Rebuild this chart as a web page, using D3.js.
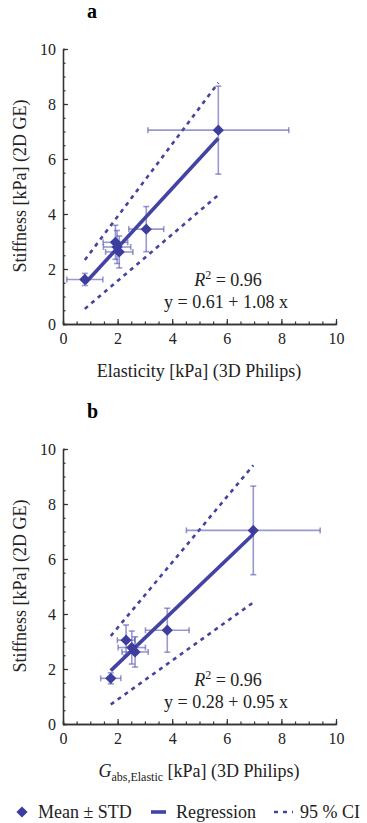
<!DOCTYPE html>
<html>
<head>
<meta charset="utf-8">
<script src="https://cdn.jsdelivr.net/npm/d3@7"></script>
<style>
  body { margin: 0; background: #fff; }
  svg { display: block; font-family: "Liberation Serif", "DejaVu Serif", serif; }
</style>
</head>
<body>
<div id="chart"></div>
<script>
// panel a : 2D GE stiffness vs 3D Philips elasticity
const aX = [0.8, 1.92, 1.98, 2.06, 3.05, 5.69];
const aY = [1.62, 2.97, 2.8, 2.62, 3.45, 7.05];
const aXErr = [0.66, 0.45, 0.5, 0.5, 0.64, 2.58];
const aYErr = [0.22, 0.62, 0.6, 0.58, 0.82, 1.6];
const aFit = [0.61, 1.08];
const aCiUpper = [[0.8, 2.33], [5.69, 8.77]];
const aCiLower = [[0.8, 0.55], [5.69, 4.69]];
const aText = ["0.96", "y = 0.61 + 1.08 x"];

// panel b : 2D GE stiffness vs Gabs,Elastic
const bX = [1.75, 2.31, 2.52, 2.64, 3.82, 6.97];
const bY = [1.66, 3.05, 2.78, 2.62, 3.41, 7.04];
const bXErr = [0.37, 0.32, 0.5, 0.48, 0.8, 2.45];
const bYErr = [0.2, 0.55, 0.6, 0.55, 0.8, 1.61];
const bFit = [0.28, 0.95];
const bCiUpper = [[1.75, 3.2], [6.97, 9.41]];
const bCiLower = [[1.75, 0.71], [6.97, 4.42]];
const bText = ["0.96", "y = 0.28 + 0.95 x"];

const majorTicks = [0, 2, 4, 6, 8, 10];
const minorTicks = d3.range(0, 10.01, 0.5);

const W = 367, H = 823;
const lineColor = "#4343a3";
const barColor = "rgba(85,85,175,0.6)";

const svg = d3.select("#chart").append("svg")
    .attr("width", W)
    .attr("height", H)

function drawPanel(top, letter, xs, ys, xe, ye, fit, ciUp, ciLo, txt, isB) {
    let x = d3.scaleLinear().domain([0, 10]).range([63, 336]);
    let y = d3.scaleLinear().domain([0, 10]).range([top + 275, top]);
    let g = svg.append("g")

    //panel letter
    g.append("text")
        .attr("x", 87).attr("y", top - 31)
        .attr("font-size", 20).attr("font-weight", "bold")
        .text(letter)

    //minor ticks first, then major ticks with labels
    g.append("g").attr("transform", "translate(0," + y(0) + ")")
        .call(d3.axisBottom(x).tickValues(minorTicks).tickSize(-2.5).tickFormat(""))
    g.append("g").attr("transform", "translate(63,0)")
        .call(d3.axisLeft(y).tickValues(minorTicks).tickSize(-2.5).tickFormat(""))
    g.append("g").attr("class", "xAxis").attr("transform", "translate(0," + y(0) + ")")
        .call(d3.axisBottom(x).tickValues(majorTicks).tickSizeInner(-5).tickSizeOuter(0).tickPadding(9))
    g.append("g").attr("class", "yAxis").attr("transform", "translate(63,0)")
        .call(d3.axisLeft(y).tickValues(majorTicks).tickSizeInner(-5).tickSizeOuter(0).tickPadding(7))
    g.selectAll(".domain").attr("stroke", "#333").attr("stroke-width", 1.3)
    g.selectAll(".tick line").attr("stroke", "#333").attr("stroke-width", 1.2)
    g.selectAll(".tick text").attr("font-size", 16).attr("fill", "#222")
        .attr("font-family", "Liberation Serif")

    //axis titles
    let xl = g.append("text")
        .attr("x", 199).attr("y", top + 328)
        .attr("text-anchor", "middle").attr("font-size", 18).attr("fill", "#222")
    if (isB) {
        xl.append("tspan").attr("font-style", "italic").text("G")
        xl.append("tspan").attr("font-size", 12).attr("dy", 4).text("abs,Elastic")
        xl.append("tspan").attr("dy", -4).text(" [kPa] (3D Philips)")
    } else {
        xl.text("Elasticity [kPa] (3D Philips)")
    }
    g.append("text")
        .attr("transform", "translate(26," + (top + 137) + ") rotate(-90)")
        .attr("text-anchor", "middle").attr("font-size", 18).attr("fill", "#222")
        .text("Stiffness [kPa] (2D GE)")

    //confidence band
    let line = d3.line().x(d => x(d[0])).y(d => y(d[1]))
    ;[ciUp, ciLo].forEach(function (c) {
        g.append("path").datum(c)
            .attr("d", line)
            .attr("fill", "none").attr("stroke", lineColor)
            .attr("stroke-width", 2.6).attr("stroke-dasharray", "4,4.5")
    })

    //error bars
    let pts = xs.map((v, i) => ({ x: v, y: ys[i], ex: xe[i], ey: ye[i] }))
    let cap = 3
    pts.forEach(function (p) {
        let b = g.append("g").attr("stroke", barColor).attr("stroke-width", 1.6)
        b.append("line").attr("x1", x(p.x - p.ex)).attr("x2", x(p.x + p.ex))
            .attr("y1", y(p.y)).attr("y2", y(p.y))
        b.append("line").attr("x1", x(p.x)).attr("x2", x(p.x))
            .attr("y1", y(p.y - p.ey)).attr("y2", y(p.y + p.ey))
        ;[p.x - p.ex, p.x + p.ex].forEach(v => b.append("line")
            .attr("x1", x(v)).attr("x2", x(v)).attr("y1", y(p.y) - cap).attr("y2", y(p.y) + cap))
        ;[p.y - p.ey, p.y + p.ey].forEach(v => b.append("line")
            .attr("x1", x(p.x) - cap).attr("x2", x(p.x) + cap).attr("y1", y(v)).attr("y2", y(v)))
    })

    //regression line over the data range
    let xMin = d3.min(xs), xMax = d3.max(xs)
    g.append("path").datum([[xMin, fit[0] + fit[1] * xMin], [xMax, fit[0] + fit[1] * xMax]])
        .attr("d", line)
        .attr("fill", "none").attr("stroke", lineColor).attr("stroke-width", 3.6)

    //means
    g.selectAll("path.pt").data(pts).enter().append("path")
        .attr("class", "pt")
        .attr("d", d3.symbol(d3.symbolDiamond2, 80))
        .attr("transform", d => "translate(" + x(d.x) + "," + y(d.y) + ")")
        .attr("fill", "#3d3d9e")

    //fit annotation
    let r = g.append("text")
        .attr("x", 228).attr("y", top + 237)
        .attr("text-anchor", "middle").attr("font-size", 18).attr("fill", "#222")
    r.append("tspan").attr("font-style", "italic").text("R")
    r.append("tspan").attr("font-size", 12).attr("dy", -7).text("2")
    r.append("tspan").attr("dy", 7).text(" = " + txt[0])
    g.append("text")
        .attr("x", 226).attr("y", top + 259)
        .attr("text-anchor", "middle").attr("font-size", 18).attr("fill", "#222")
        .text(txt[1])
}

drawPanel(49, "a", aX, aY, aXErr, aYErr, aFit, aCiUpper, aCiLower, aText, false)
drawPanel(449, "b", bX, bY, bXErr, bYErr, bFit, bCiUpper, bCiLower, bText, true)

//legend
let lg = svg.append("g").attr("font-size", 18).attr("fill", "#222")
lg.append("path")
    .attr("d", d3.symbol(d3.symbolDiamond2, 80))
    .attr("transform", "translate(22,812)")
    .attr("fill", "#3d3d9e")
lg.append("text").attr("x", 38).attr("y", 818).text("Mean \u00b1 STD")
lg.append("line").attr("x1", 151).attr("x2", 166).attr("y1", 812).attr("y2", 812)
    .attr("stroke", lineColor).attr("stroke-width", 3.6)
lg.append("text").attr("x", 176).attr("y", 818).text("Regression")
lg.append("line").attr("x1", 274).attr("x2", 293).attr("y1", 812).attr("y2", 812)
    .attr("stroke", lineColor).attr("stroke-width", 2.6).attr("stroke-dasharray", "4,5")
lg.append("text").attr("x", 300).attr("y", 818).text("95 % CI")
</script>
</body>
</html>
